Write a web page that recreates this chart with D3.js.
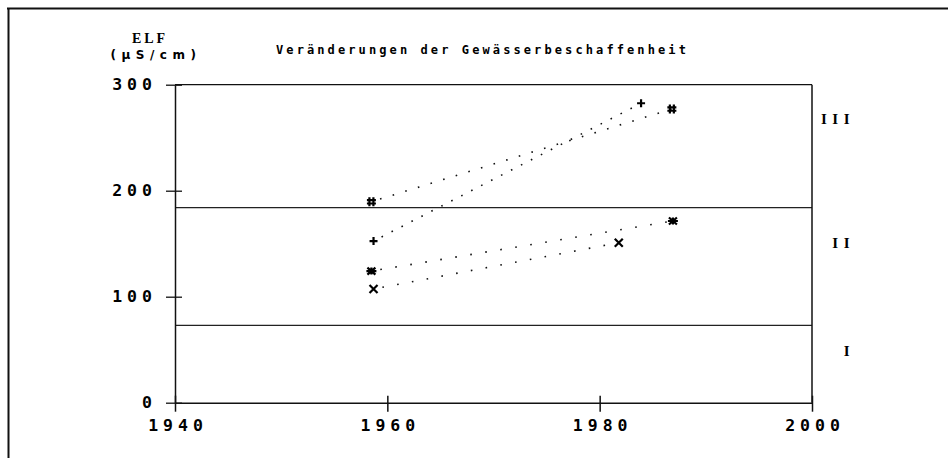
<!DOCTYPE html>
<html>
<head>
<meta charset="utf-8">
<script src="https://cdn.jsdelivr.net/npm/d3@7"></script>
<style>
  html, body { margin: 0; padding: 0; background: #fff; }
  svg { display: block; }
  .mono { font-family: "DejaVu Sans Mono", monospace; font-weight: bold; }
</style>
</head>
<body>
<svg id="chart" width="948" height="458"></svg>
<script>
// ---- data ----
const titleText = "Veränderungen der Gewässerbeschaffenheit";
const yTitle = ["ELF", "(μS/cm)"];
const xTicks = [1940, 1960, 1980, 2000];
const yTicks = [0, 100, 200, 300];
const classBounds = [73, 184];
const classLabels = ["I", "II", "III"];
const classLabelValues = [49, 151, 268];

const seriesNames = ["hash", "plus", "star", "cross"];
const hashYears = [1958.5, 1986.8];
const hashValues = [189.6, 277.1];
const plusYears = [1958.7, 1983.9];
const plusValues = [152.5, 282.5];
const starYears = [1958.5, 1986.9];
const starValues = [124.2, 171.4];
const crossYears = [1958.7, 1981.8];
const crossValues = [107.3, 150.9];

const seriesData = {
  hash: hashYears.map((y, i) => ({ year: y, value: hashValues[i] })),
  plus: plusYears.map((y, i) => ({ year: y, value: plusValues[i] })),
  star: starYears.map((y, i) => ({ year: y, value: starValues[i] })),
  cross: crossYears.map((y, i) => ({ year: y, value: crossValues[i] }))
};

// ---- styles ----
const dotGap = { hash: 11.6, plus: 9.6, star: 13.6, cross: 13.4 };

// marker shapes (custom d3 symbol types, stroke based)
const markerTypes = {
  hash: { draw(c) { c.moveTo(-2, -4.5); c.lineTo(-2, 4.5); c.moveTo(2, -4.5); c.lineTo(2, 4.5);
                    c.moveTo(-4.5, -1.5); c.lineTo(4.5, -1.5); c.moveTo(-4.5, 1.8); c.lineTo(4.5, 1.8); } },
  plus: { draw(c) { c.moveTo(-4, 0); c.lineTo(4, 0); c.moveTo(0, -4); c.lineTo(0, 4); } },
  star: { draw(c) { c.moveTo(-5, 0); c.lineTo(5, 0); c.moveTo(-4, -3.5); c.lineTo(4, 3.5);
                    c.moveTo(-4, 3.5); c.lineTo(4, -3.5); c.moveTo(0, -3.5); c.lineTo(0, 3.5); } },
  cross: { draw(c) { c.moveTo(-4, -4); c.lineTo(4, 4); c.moveTo(-4, 4); c.lineTo(4, -4); } }
};

const svg = d3.select("#chart");

// outer frame (top + left)
svg.append("line").attr("x1", 7).attr("x2", 948).attr("y1", 8.5).attr("y2", 8.5)
  .attr("stroke", "#111").attr("stroke-width", 2);
svg.append("line").attr("x1", 8.5).attr("x2", 8.5).attr("y1", 8).attr("y2", 458)
  .attr("stroke", "#111").attr("stroke-width", 2);

const x = d3.scaleLinear().domain([1940, 2000]).range([175, 812]);
const y = d3.scaleLinear().domain([0, 300]).range([402.7, 84.7]);

// class boundary lines
svg.selectAll(".cls").data(classBounds).join("line")
  .attr("x1", x(1940)).attr("x2", x(2000))
  .attr("y1", d => y(d)).attr("y2", d => y(d))
  .attr("stroke", "#222").attr("stroke-width", 1.2);

// frame top and right
svg.append("line").attr("x1", x(1940)).attr("x2", x(2000)).attr("y1", y(300)).attr("y2", y(300))
  .attr("stroke", "#111").attr("stroke-width", 1.3);
svg.append("line").attr("x1", x(2000)).attr("x2", x(2000)).attr("y1", y(300)).attr("y2", y(0))
  .attr("stroke", "#111").attr("stroke-width", 1.5);

// y axis
const yAxis = svg.append("g").attr("transform", `translate(${x(1940)},0)`)
  .call(d3.axisLeft(y).tickValues(yTicks).tickSize(9).tickSizeOuter(0).tickPadding(9).tickFormat(d3.format("d")));
yAxis.select(".domain").attr("stroke", "#111").attr("stroke-width", 1.5);
yAxis.selectAll(".tick line").attr("x1", 7).attr("stroke", "#111").attr("stroke-width", 1.3);
yAxis.selectAll(".tick text").attr("class", "mono").attr("font-size", 16.5)
  .attr("letter-spacing", 5).attr("fill", "#000");
yAxis.attr("font-family", null).attr("font-size", null);

// x axis
const xAxis = svg.append("g").attr("transform", `translate(0,${y(0)})`)
  .call(d3.axisBottom(x).tickValues(xTicks).tickSize(9).tickSizeOuter(0).tickPadding(8).tickFormat(d3.format("d")));
xAxis.select(".domain").attr("stroke", "#111").attr("stroke-width", 1.5);
xAxis.selectAll(".tick line").attr("y1", -7).attr("stroke", "#111").attr("stroke-width", 1.5);
xAxis.selectAll(".tick text").attr("class", "mono").attr("font-size", 16.5)
  .attr("letter-spacing", 5).attr("dx", 2.5).attr("fill", "#000");
xAxis.attr("font-family", null).attr("font-size", null);

// class labels
svg.selectAll(".clabel").data(classLabels).join("text")
  .attr("x", 855).attr("y", (d, i) => y(classLabelValues[i]))
  .attr("dy", "0.35em").attr("text-anchor", "end")
  .attr("font-family", "Liberation Serif, serif").attr("font-weight", "bold")
  .attr("font-size", 15).attr("letter-spacing", 5.5).text(d => d);

// titles
svg.append("text").attr("x", 276).attr("y", 54).attr("class", "mono")
  .attr("font-size", 12).attr("letter-spacing", 3.1).text(titleText);
svg.append("text").attr("x", 150).attr("y", 43).attr("text-anchor", "middle")
  .attr("font-family", "Liberation Serif, serif").attr("font-weight", "bold")
  .attr("font-size", 14).attr("letter-spacing", 3).text(yTitle[0]);
svg.append("text").attr("x", 156).attr("y", 59).attr("text-anchor", "middle")
  .attr("font-family", "DejaVu Sans, sans-serif").attr("font-weight", "bold")
  .attr("font-size", 12).attr("letter-spacing", 5.5).text(yTitle[1]);

// series dotted lines and markers
const line = d3.line().x(d => x(d.year)).y(d => y(d.value));
seriesNames.forEach(name => {
  const data = seriesData[name];
  svg.append("path").datum(data)
    .attr("d", line).attr("fill", "none").attr("stroke", "#111")
    .attr("stroke-width", 1.6)
    .attr("stroke-dasharray", `1.6,${dotGap[name]}`)
    .attr("stroke-dashoffset", -9);
  svg.selectAll(null).data(data).join("path")
    .attr("transform", d => `translate(${x(d.year)},${y(d.value)})`)
    .attr("d", d3.symbol().type(markerTypes[name]).size(64))
    .attr("fill", "none").attr("stroke", "#000").attr("stroke-width", 2.2);
});
</script>
</body>
</html>
